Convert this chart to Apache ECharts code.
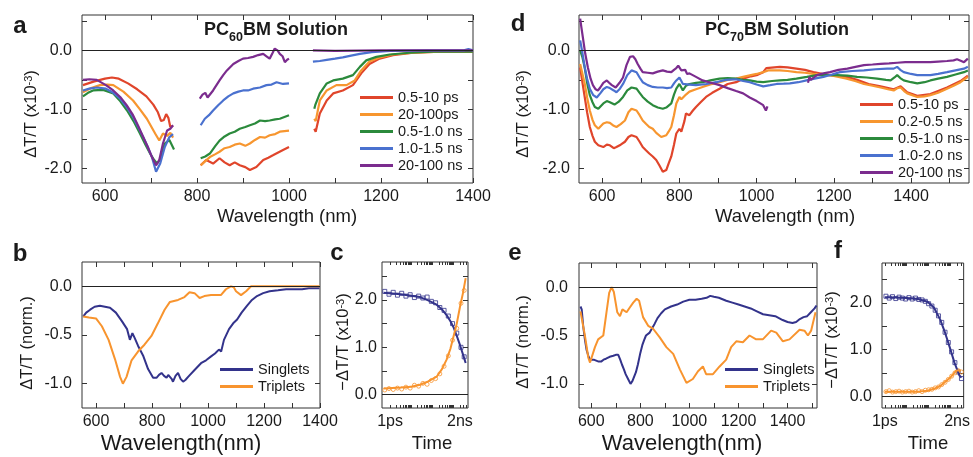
<!DOCTYPE html>
<html><head><meta charset="utf-8">
<script src="https://cdn.jsdelivr.net/npm/echarts@6/dist/echarts.min.js"></script>
<style>html,body{margin:0;padding:0;background:#fff}#c{width:973px;height:457px}</style>
</head><body><div id="c"></div>
<script>
// ---------- Panel a (PC60BM) : three spectral windows per series ----------
const a_red_1 = [[552,-0.59],[575,-0.53],[600,-0.48],[615,-0.46],[630,-0.48],[650,-0.56],[670,-0.66],[690,-0.78],[705,-0.92],[715,-1.05],[722,-1.2],[728,-1.18],[733,-1.08],[738,-1.15],[742,-1.3],[748,-1.28]];
const a_red_2 = [[808,-1.95],[820,-1.86],[835,-1.92],[849,-1.83],[860,-1.9],[871,-1.95],[882,-1.9],[893,-1.95],[905,-1.98],[915,-2.03],[929,-1.98],[944,-1.86],[955,-1.82],[965,-1.78],[987,-1.69],[1000,-1.64]];
const a_red_3 = [[1055,-1.33],[1058,-1.38],[1067,-1.07],[1082,-0.85],[1096,-0.73],[1117,-0.68],[1139,-0.59],[1157,-0.39],[1175,-0.23],[1197,-0.14],[1226,-0.08],[1270,-0.04],[1330,-0.02],[1400,-0.02]];
const a_orange_1 = [[552,-0.71],[570,-0.64],[589,-0.59],[605,-0.58],[618,-0.59],[640,-0.7],[661,-0.85],[676,-1.0],[691,-1.16],[709,-1.41],[718,-1.53],[726,-1.41],[735,-1.45],[742,-1.4],[748,-1.48]];
const a_orange_2 = [[808,-1.95],[818,-1.88],[828,-1.81],[840,-1.76],[849,-1.72],[860,-1.66],[871,-1.64],[882,-1.6],[893,-1.58],[905,-1.62],[915,-1.58],[926,-1.52],[937,-1.47],[948,-1.48],[958,-1.44],[970,-1.42],[980,-1.38],[1000,-1.36]];
const a_orange_3 = [[1055,-1.16],[1058,-1.2],[1067,-0.85],[1082,-0.68],[1103,-0.59],[1125,-0.59],[1143,-0.51],[1157,-0.34],[1175,-0.19],[1197,-0.12],[1226,-0.07],[1270,-0.04],[1330,-0.02],[1400,-0.02]];
const a_green_1 = [[552,-0.78],[563,-0.72],[574,-0.68],[596,-0.67],[618,-0.73],[633,-0.86],[648,-1.02],[662,-1.2],[676,-1.41],[688,-1.6],[698,-1.75],[706,-1.85],[713,-1.92],[720,-1.85],[730,-1.58],[740,-1.52],[745,-1.6],[750,-1.68]];
const a_green_2 = [[808,-1.83],[818,-1.8],[828,-1.75],[840,-1.62],[849,-1.53],[860,-1.46],[871,-1.41],[882,-1.38],[893,-1.33],[905,-1.3],[915,-1.27],[926,-1.24],[937,-1.19],[948,-1.2],[958,-1.19],[970,-1.17],[980,-1.16],[1000,-1.1]];
const a_green_3 = [[1055,-0.99],[1057,-0.93],[1067,-0.73],[1082,-0.56],[1096,-0.51],[1117,-0.48],[1139,-0.42],[1154,-0.28],[1168,-0.17],[1190,-0.11],[1219,-0.07],[1262,-0.04],[1313,-0.02],[1400,-0.02]];
const a_blue_1 = [[552,-0.68],[566,-0.65],[582,-0.63],[602,-0.65],[618,-0.72],[633,-0.82],[647,-0.96],[661,-1.13],[672,-1.3],[683,-1.47],[693,-1.64],[702,-1.81],[707,-1.95],[711,-2.06],[720,-1.92],[730,-1.64],[740,-1.47],[748,-1.42]];
const a_blue_2 = [[808,-1.27],[812,-1.3],[817,-1.16],[826,-1.1],[835,-1.02],[846,-0.93],[857,-0.85],[868,-0.78],[879,-0.73],[890,-0.7],[900,-0.68],[911,-0.68],[922,-0.65],[937,-0.63],[951,-0.59],[962,-0.58],[973,-0.54],[987,-0.57],[1000,-0.56]];
const a_blue_3 = [[1052,-0.19],[1067,-0.18],[1082,-0.16],[1100,-0.14],[1117,-0.12],[1135,-0.09],[1154,-0.06],[1180,-0.03],[1220,-0.01],[1300,0.0],[1380,0.0],[1390,0.02],[1400,0.0]];
const a_purple_1 = [[552,-0.5],[566,-0.49],[582,-0.5],[602,-0.59],[618,-0.68],[633,-0.79],[647,-0.93],[661,-1.1],[672,-1.28],[683,-1.47],[693,-1.64],[702,-1.81],[711,-1.95],[718,-1.86],[726,-1.58],[735,-1.36],[742,-1.33],[748,-1.27]];
const a_purple_2 = [[806,-0.82],[812,-0.75],[818,-0.72],[823,-0.8],[835,-0.68],[849,-0.51],[857,-0.42],[865,-0.34],[879,-0.23],[890,-0.18],[900,-0.14],[911,-0.13],[922,-0.11],[933,-0.08],[944,-0.06],[951,-0.1],[958,-0.14],[964,-0.05],[969,0.03],[975,0.0],[980,-0.06],[986,-0.1],[991,-0.2],[996,-0.16],[1000,-0.14]];
const a_purple_3 = [[1052,0.0],[1100,-0.01],[1200,0.0],[1300,0.0],[1400,0.0]];
const a_names = ['0.5-10 ps','20-100ps','0.5-1.0 ns','1.0-1.5 ns','20-100 ns'];

// ---------- Panel d (PC70BM) ----------
const d_red = [[543,-0.29],[549,-0.55],[555,-0.8],[561,-1.05],[568,-1.3],[575,-1.45],[581,-1.55],[590,-1.61],[603,-1.64],[612,-1.6],[620,-1.61],[630,-1.66],[637,-1.64],[648,-1.6],[659,-1.55],[668,-1.47],[676,-1.44],[689,-1.47],[697,-1.55],[705,-1.64],[714,-1.7],[722,-1.75],[731,-1.8],[740,-1.86],[748,-1.95],[757,-2.06],[766,-2.03],[772,-1.92],[779,-1.8],[786,-1.6],[792,-1.41],[800,-1.33],[805,-1.38],[809,-1.41],[813,-1.2],[817,-1.07],[826,-1.1],[835,-1.02],[843,-0.96],[855,-0.88],[869,-0.79],[885,-0.72],[904,-0.65],[925,-0.57],[947,-0.54],[965,-0.48],[985,-0.44],[1000,-0.42],[1017,-0.37],[1025,-0.3],[1030,-0.28],[1060,-0.28],[1080,-0.29],[1103,-0.31],[1125,-0.33],[1147,-0.37],[1170,-0.4],[1190,-0.42],[1212,-0.43],[1233,-0.45],[1260,-0.5],[1290,-0.57],[1321,-0.61],[1355,-0.66],[1373,-0.61],[1390,-0.71],[1416,-0.77],[1450,-0.74],[1493,-0.63],[1528,-0.52],[1547,-0.43]];
const d_orange = [[543,-0.23],[549,-0.4],[555,-0.57],[561,-0.8],[568,-1.02],[575,-1.18],[581,-1.27],[590,-1.33],[603,-1.24],[612,-1.22],[620,-1.23],[630,-1.28],[637,-1.3],[648,-1.25],[659,-1.19],[668,-1.05],[676,-0.99],[689,-1.02],[697,-1.1],[705,-1.19],[714,-1.25],[722,-1.3],[731,-1.33],[740,-1.4],[753,-1.47],[766,-1.44],[772,-1.38],[779,-1.3],[786,-1.1],[792,-0.9],[800,-0.79],[805,-0.83],[809,-0.85],[817,-0.75],[826,-0.7],[843,-0.66],[860,-0.62],[880,-0.58],[904,-0.54],[925,-0.5],[947,-0.48],[965,-0.45],[985,-0.42],[1000,-0.4],[1017,-0.37],[1030,-0.34],[1060,-0.34],[1080,-0.35],[1103,-0.37],[1125,-0.38],[1147,-0.4],[1170,-0.41],[1190,-0.42],[1212,-0.45],[1233,-0.48],[1255,-0.52],[1278,-0.57],[1300,-0.6],[1321,-0.63],[1340,-0.66],[1355,-0.68],[1365,-0.64],[1373,-0.63],[1382,-0.69],[1390,-0.73],[1416,-0.79],[1435,-0.78],[1450,-0.76],[1470,-0.72],[1493,-0.65],[1510,-0.6],[1528,-0.54],[1547,-0.45]];
const d_green = [[543,0.0],[549,-0.12],[555,-0.3],[561,-0.55],[568,-0.76],[575,-0.88],[581,-0.96],[590,-0.99],[603,-0.9],[612,-0.86],[620,-0.88],[632,-0.92],[643,-0.87],[654,-0.79],[665,-0.68],[676,-0.63],[689,-0.65],[697,-0.72],[705,-0.79],[718,-0.87],[731,-0.93],[744,-0.97],[757,-0.99],[766,-0.97],[779,-0.9],[786,-0.75],[792,-0.65],[800,-0.57],[805,-0.63],[809,-0.68],[817,-0.6],[826,-0.57],[843,-0.55],[860,-0.54],[880,-0.51],[904,-0.48],[925,-0.47],[947,-0.48],[965,-0.5],[982,-0.51],[1000,-0.53],[1017,-0.54],[1040,-0.52],[1060,-0.51],[1080,-0.5],[1103,-0.48],[1130,-0.45],[1156,-0.42],[1180,-0.42],[1207,-0.42],[1235,-0.43],[1260,-0.45],[1285,-0.46],[1312,-0.48],[1335,-0.5],[1347,-0.51],[1357,-0.46],[1364,-0.42],[1372,-0.47],[1381,-0.51],[1400,-0.54],[1416,-0.56],[1435,-0.54],[1450,-0.51],[1470,-0.48],[1493,-0.45],[1515,-0.41],[1537,-0.37],[1547,-0.34]];
const d_blue = [[543,0.17],[549,-0.05],[555,-0.29],[561,-0.48],[568,-0.65],[577,-0.76],[586,-0.8],[595,-0.73],[603,-0.66],[612,-0.62],[620,-0.64],[630,-0.68],[637,-0.71],[646,-0.65],[654,-0.57],[665,-0.42],[676,-0.34],[689,-0.37],[697,-0.46],[705,-0.54],[718,-0.59],[731,-0.62],[744,-0.63],[757,-0.63],[768,-0.64],[779,-0.63],[786,-0.56],[792,-0.51],[800,-0.46],[805,-0.52],[809,-0.57],[826,-0.58],[843,-0.59],[870,-0.57],[895,-0.54],[920,-0.5],[947,-0.49],[965,-0.52],[982,-0.54],[1000,-0.58],[1017,-0.61],[1035,-0.59],[1052,-0.57],[1070,-0.565],[1086,-0.56],[1108,-0.54],[1129,-0.51],[1150,-0.48],[1173,-0.45],[1195,-0.41],[1216,-0.37],[1248,-0.35],[1278,-0.34],[1308,-0.32],[1338,-0.31],[1355,-0.31],[1364,-0.28],[1372,-0.33],[1381,-0.37],[1400,-0.4],[1416,-0.42],[1450,-0.42],[1470,-0.4],[1493,-0.37],[1515,-0.34],[1537,-0.31],[1547,-0.28]];
const d_purple_1 = [[543,0.54],[546,0.4],[550,0.22],[556,-0.05],[563,-0.29],[570,-0.48],[576,-0.59],[583,-0.66],[589,-0.68],[595,-0.63],[603,-0.55],[612,-0.51],[618,-0.55],[625,-0.59],[635,-0.63],[645,-0.55],[654,-0.46],[663,-0.25],[672,-0.11],[680,-0.1],[686,-0.15],[692,-0.23],[699,-0.31],[705,-0.37],[718,-0.38],[731,-0.39],[744,-0.36],[757,-0.34],[768,-0.36],[779,-0.37],[786,-0.33],[792,-0.3],[797,-0.26],[800,-0.28],[805,-0.34],[809,-0.37],[815,-0.33],[820,-0.4],[826,-0.39],[843,-0.45],[860,-0.51],[882,-0.55],[904,-0.59],[925,-0.64],[947,-0.69],[965,-0.73],[982,-0.8],[1000,-0.86],[1017,-0.93],[1024,-1.02],[1028,-0.95]];
const d_purple_2 = [[1133,-0.55],[1137,-0.45],[1140,-0.5],[1156,-0.42],[1173,-0.39],[1190,-0.37],[1212,-0.33],[1235,-0.31],[1256,-0.28],[1278,-0.25],[1300,-0.24],[1321,-0.23],[1343,-0.22],[1364,-0.21],[1385,-0.2],[1407,-0.2],[1430,-0.2],[1450,-0.2],[1470,-0.19],[1493,-0.18],[1510,-0.17],[1519,-0.15],[1530,-0.18],[1537,-0.2],[1547,-0.14]];
const d_names = ['0.5-10 ps','0.2-0.5 ns','0.5-1.0 ns','1.0-2.0 ns','20-100 ns'];

// ---------- Panel b (PC60BM normalised) ----------
const b_singlets = [[554,-0.31],[565,-0.27],[579,-0.24],[595,-0.21],[614,-0.2],[632,-0.21],[650,-0.22],[671,-0.27],[693,-0.36],[711,-0.44],[721,-0.55],[730,-0.48],[738,-0.53],[750,-0.61],[768,-0.71],[786,-0.85],[804,-0.94],[816,-0.94],[825,-0.91],[834,-0.89],[843,-0.92],[852,-0.94],[858,-0.91],[864,-0.89],[870,-0.95],[875,-0.98],[884,-0.92],[893,-0.89],[902,-0.95],[911,-0.98],[920,-0.96],[929,-0.93],[952,-0.86],[975,-0.79],[993,-0.76],[1011,-0.72],[1025,-0.69],[1039,-0.65],[1047,-0.67],[1057,-0.55],[1075,-0.44],[1090,-0.38],[1104,-0.34],[1120,-0.27],[1139,-0.2],[1157,-0.14],[1175,-0.1],[1197,-0.07],[1220,-0.05],[1250,-0.04],[1279,-0.03],[1310,-0.03],[1336,-0.03],[1360,-0.02],[1380,-0.02],[1398,-0.02]];
const b_triplets = [[554,-0.31],[575,-0.32],[600,-0.33],[621,-0.41],[645,-0.55],[668,-0.75],[686,-0.93],[696,-1.0],[709,-0.93],[727,-0.76],[750,-0.67],[773,-0.6],[798,-0.51],[821,-0.38],[845,-0.24],[864,-0.16],[893,-0.14],[916,-0.11],[934,-0.06],[952,-0.07],[970,-0.12],[987,-0.1],[1011,-0.09],[1046,-0.09],[1064,-0.03],[1082,0.0],[1092,-0.01],[1100,-0.05],[1118,-0.09],[1136,-0.05],[1154,0.0],[1200,0.0],[1300,0.0],[1398,0.0]];

// ---------- Panel e (PC70BM normalised) ----------
const e_singlets = [[556,-0.2],[561,-0.23],[567,-0.4],[574,-0.54],[581,-0.65],[588,-0.71],[595,-0.75],[601,-0.76],[610,-0.75],[620,-0.76],[630,-0.77],[640,-0.77],[650,-0.75],[660,-0.74],[675,-0.72],[690,-0.71],[700,-0.7],[710,-0.7],[718,-0.75],[725,-0.8],[733,-0.85],[740,-0.9],[750,-0.95],[760,-1.0],[768,-0.97],[775,-0.95],[782,-0.88],[790,-0.8],[800,-0.68],[808,-0.6],[815,-0.55],[823,-0.5],[830,-0.48],[838,-0.47],[845,-0.45],[858,-0.38],[870,-0.32],[885,-0.27],[900,-0.23],[925,-0.2],[950,-0.18],[975,-0.15],[1000,-0.13],[1025,-0.13],[1050,-0.12],[1070,-0.11],[1085,-0.09],[1100,-0.1],[1120,-0.11],[1150,-0.14],[1175,-0.16],[1200,-0.18],[1225,-0.2],[1250,-0.22],[1275,-0.25],[1300,-0.28],[1325,-0.29],[1350,-0.3],[1365,-0.32],[1380,-0.34],[1400,-0.36],[1420,-0.37],[1435,-0.36],[1450,-0.33],[1465,-0.31],[1480,-0.3],[1495,-0.26],[1510,-0.22],[1518,-0.19]];
const e_triplets = [[556,-0.25],[561,-0.25],[574,-0.5],[588,-0.73],[595,-0.78],[601,-0.76],[615,-0.62],[628,-0.54],[649,-0.5],[662,-0.26],[673,-0.06],[683,0.0],[692,-0.05],[706,-0.26],[717,-0.3],[727,-0.23],[744,-0.26],[757,-0.21],[771,-0.16],[785,-0.12],[795,-0.14],[811,-0.31],[832,-0.4],[852,-0.43],[879,-0.52],[906,-0.62],[934,-0.69],[961,-0.85],[988,-0.99],[996,-1.0],[1014,-0.95],[1035,-0.87],[1055,-0.82],[1068,-0.9],[1096,-0.9],[1123,-0.82],[1150,-0.75],[1170,-0.62],[1191,-0.56],[1218,-0.57],[1245,-0.5],[1272,-0.54],[1299,-0.54],[1333,-0.45],[1354,-0.47],[1381,-0.56],[1408,-0.54],[1449,-0.44],[1469,-0.45],[1483,-0.5],[1496,-0.45],[1514,-0.26]];

// ---------- Panels c and f : kinetics, x = log10(t / 1 ps) ----------
const c_s_pts = [[-0.25,2.18],[-0.05,2.12],[0.15,2.16],[0.35,2.1],[0.55,2.14],[0.75,2.08],[0.95,2.11],[1.15,2.05],[1.35,2.08],[1.55,2.04],[1.75,2.06],[1.95,1.97],[2.15,1.94],[2.35,1.84],[2.55,1.78],[2.75,1.66],[2.95,1.5],[3.15,1.3],[3.35,1.0],[3.5,0.8]];
const c_t_pts = [[-0.25,0.1],[-0.05,0.13],[0.15,0.11],[0.35,0.14],[0.55,0.12],[0.75,0.16],[0.95,0.14],[1.15,0.2],[1.35,0.18],[1.55,0.24],[1.75,0.22],[1.95,0.3],[2.15,0.34],[2.35,0.44],[2.55,0.6],[2.75,0.82],[2.95,1.15],[3.15,1.4],[3.35,1.93],[3.5,2.2]];
const c_s_fit = [[-0.3,2.15],[0.5,2.12],[1.0,2.09],[1.41,2.06],[1.8,1.99],[2.2,1.9],[2.45,1.8],[2.67,1.68],[2.85,1.55],[2.99,1.43],[3.15,1.24],[3.3,1.05],[3.45,0.84],[3.57,0.67]];
const c_t_fit = [[-0.3,0.13],[0.5,0.15],[1.0,0.17],[1.41,0.21],[1.8,0.28],[2.2,0.38],[2.45,0.54],[2.67,0.74],[2.85,0.97],[2.99,1.22],[3.15,1.5],[3.3,1.85],[3.45,2.16],[3.57,2.46]];
const f_s_pts = [[0.05,2.14],[0.2,2.1],[0.35,2.13],[0.5,2.09],[0.65,2.12],[0.8,2.1],[0.95,2.08],[1.1,2.11],[1.25,2.08],[1.4,2.1],[1.55,2.07],[1.7,2.06],[1.85,2.03],[2.0,1.98],[2.15,1.93],[2.3,1.84],[2.45,1.72],[2.6,1.58],[2.75,1.37],[2.9,1.15],[3.05,0.95],[3.2,0.72],[3.35,0.52],[3.5,0.38]];
const f_t_pts = [[0.05,0.1],[0.2,0.12],[0.35,0.09],[0.5,0.1],[0.65,0.11],[0.8,0.09],[0.95,0.1],[1.1,0.11],[1.25,0.09],[1.4,0.1],[1.55,0.12],[1.7,0.1],[1.85,0.13],[2.0,0.14],[2.15,0.15],[2.3,0.18],[2.45,0.2],[2.6,0.25],[2.75,0.3],[2.9,0.36],[3.05,0.43],[3.2,0.5],[3.35,0.55],[3.5,0.52]];
const f_s_fit = [[0,2.12],[0.5,2.11],[1.0,2.1],[1.52,2.08],[1.95,2.02],[2.24,1.9],[2.53,1.64],[2.75,1.36],[2.97,1.04],[3.18,0.72],[3.4,0.45],[3.5,0.4]];
const f_t_fit = [[0,0.1],[0.5,0.1],[1.0,0.1],[1.52,0.1],[1.95,0.12],[2.24,0.16],[2.53,0.22],[2.68,0.28],[2.97,0.39],[3.26,0.55],[3.47,0.55]];
const bt_names = ['Singlets','Triplets'];

// ---------- Tick values ----------
const wlTicksA = [600,700,800,900,1000,1100,1200,1300,1400];
const wlTicksD = [600,700,800,900,1000,1100,1200,1300,1400,1500];
const wlLabels = [600,800,1000,1200,1400];
const yTicksAD = [-2,-1.5,-1,-0.5,0,0.5];
const yLabelsAD = [-2,-1,0];
const yTicksBE = [-1,-0.5,0];
const yTicksCF = [0,0.5,1,1.5,2,2.5];
const yLabelsCF = [0,1,2];
const timeLabelPos = [0, 3.301];
const timeLabelText = ['1ps','2ns'];

// ---------- Build ----------
const FONT = '"Liberation Sans", Arial, Helvetica, sans-serif';
const TXT = '#1a1a1a';
const C = {red:'#e0452b', orange:'#f7962f', green:'#2b8a3c', blue:'#4a71cf', purple:'#7b2c8e', navy:'#33338b', torange:'#f8942e'};

function logTicks(max){ const t=[]; for(let d=0; d<4; d++){ for(let m=1;m<10;m++){ const v=d+Math.log10(m); if(v<=max) t.push(v);} } return t; }

function join(...segs){ const out=[]; segs.forEach((s,i)=>{ if(i>0){ out.push([(segs[i-1][segs[i-1].length-1][0]+s[0][0])/2,'-']); } s.forEach(p=>out.push(p)); }); return out; }

const grids = [
  {left:82, top:15, width:391, height:168},
  {left:579, top:15, width:390, height:168},
  {left:82, top:262, width:238, height:146},
  {left:382, top:262, width:86, height:146},
  {left:579, top:263, width:238, height:145},
  {left:882, top:263, width:86, height:145}
].map(g=>Object.assign(g,{show:true, borderColor:'#333', borderWidth:1, backgroundColor:'rgba(0,0,0,0)'}));

const xAxes=[], yAxes=[];
const noLine = {show:false, onZero:false};
function addX(g,min,max,ticks,labels,fmt,tl){
  const tick = {show:true, inside:true, length:tl||5, customValues:ticks, lineStyle:{color:'#333', width:1}};
  xAxes.push({type:'value', gridIndex:g, position:'bottom', min, max, axisLine:noLine, splitLine:{show:false}, axisTick:tick,
    axisLabel:{show:true, customValues:labels, formatter:fmt, margin:6, fontSize:16, color:TXT, fontFamily:FONT}});
  xAxes.push({type:'value', gridIndex:g, position:'top', min, max, axisLine:noLine, splitLine:{show:false}, axisTick:tick, axisLabel:{show:false}});
}
function addY(g,min,max,ticks,labels,margin){
  const tick = {show:true, inside:true, length:5, customValues:ticks, lineStyle:{color:'#333', width:1}};
  yAxes.push({type:'value', gridIndex:g, position:'left', min, max, axisLine:noLine, splitLine:{show:false}, axisTick:tick,
    axisLabel:{show:true, customValues:labels, formatter:v=>v.toFixed(1), margin:margin, fontSize:16, color:TXT, fontFamily:FONT}});
  yAxes.push({type:'value', gridIndex:g, position:'right', min, max, axisLine:noLine, splitLine:{show:false}, axisTick:tick, axisLabel:{show:false}});
}
const wlFmt = v=>String(v);
const tFmt = v=>timeLabelText[timeLabelPos.indexOf(v)] || '';
addX(0,550,1400,wlTicksA,wlLabels,wlFmt); addY(0,-2.25,0.6,yTicksAD,yLabelsAD,10);
addX(1,540,1550,wlTicksD,wlLabels,wlFmt); addY(1,-2.25,0.6,yTicksAD,yLabelsAD,9);
addX(2,550,1400,wlTicksA,wlLabels,wlFmt); addY(2,-1.25,0.25,yTicksBE,yTicksBE,10);
addX(3,-0.38,3.68,logTicks(3.68),timeLabelPos,tFmt,3); addY(3,-0.28,2.8,yTicksCF,yLabelsCF,5);
addX(4,550,1520,wlTicksD,wlLabels,wlFmt); addY(4,-1.25,0.25,yTicksBE,yTicksBE,11);
addX(5,-0.13,3.6,logTicks(3.6),timeLabelPos,tFmt,3); addY(5,-0.25,2.85,yTicksCF,yLabelsCF,10);

const zeroLine = {silent:true, symbol:['none','none'], label:{show:false}, lineStyle:{color:'#222', width:1, type:'solid'}, data:[{yAxis:0}], animation:false};
function line(name,data,g,color,w,zero){
  const s={type:'line', name, data, xAxisIndex:2*g, yAxisIndex:2*g, showSymbol:false, symbol:'none', connectNulls:false,
    lineStyle:{color, width:w}, itemStyle:{color}, animation:false, z:3};
  if(zero) s.markLine = zeroLine;
  return s;
}
function pts(name,data,g,color,sym){
  return {type:'scatter', name, data, xAxisIndex:2*g, yAxisIndex:2*g, symbol:sym, symbolSize:4,
    itemStyle:{color:'rgba(255,255,255,0)', borderColor:color, borderWidth:1}, animation:false, z:2};
}

const series = [
  line(a_names[0], join(a_red_1,a_red_2,a_red_3), 0, C.red, 2.2, true),
  line(a_names[1], join(a_orange_1,a_orange_2,a_orange_3), 0, C.orange, 2.2),
  line(a_names[2], join(a_green_1,a_green_2,a_green_3), 0, C.green, 2.2),
  line(a_names[3], join(a_blue_1,a_blue_2,a_blue_3), 0, C.blue, 2.2),
  line(a_names[4], join(a_purple_1,a_purple_2,a_purple_3), 0, C.purple, 2.2),
  line(d_names[0], d_red, 1, C.red, 2.2, true),
  line(d_names[1], d_orange, 1, C.orange, 2.2),
  line(d_names[2], d_green, 1, C.green, 2.2),
  line(d_names[3], d_blue, 1, C.blue, 2.2),
  line(d_names[4], join(d_purple_1,d_purple_2), 1, C.purple, 2.2),
  line(bt_names[0], b_singlets, 2, C.navy, 2, true),
  line(bt_names[1], b_triplets, 2, C.torange, 2),
  line(bt_names[0], e_singlets, 4, C.navy, 2, true),
  line(bt_names[1], e_triplets, 4, C.torange, 2),
  pts('c singlets data', c_s_pts, 3, C.navy, 'rect'),
  pts('c triplets data', c_t_pts, 3, C.torange, 'circle'),
  line('c singlets fit', c_s_fit, 3, C.navy, 2, true),
  line('c triplets fit', c_t_fit, 3, C.torange, 2),
  pts('f singlets data', f_s_pts, 5, C.navy, 'rect'),
  pts('f triplets data', f_t_pts, 5, C.torange, 'circle'),
  line('f singlets fit', f_s_fit, 5, C.navy, 2, true),
  line('f triplets fit', f_t_fit, 5, C.torange, 2)
];

function legend(names,left,top){
  return {data:names, left, top, orient:'vertical', icon:'rect', itemWidth:33, itemHeight:3, itemGap:0, selectedMode:false,
    textStyle:{fontSize:14.5, lineHeight:17, color:TXT, fontFamily:FONT}, padding:0};
}

function txt(text,x,y,size,bold,rot,rich){
  const o={type:'text', x, y, rotation:rot||0, silent:true,
    style:{text, fill:TXT, fontSize:size, fontWeight:bold?'bold':'normal', fontFamily:FONT, align:'center', verticalAlign:'middle'}};
  if(rich) o.style.rich=rich;
  return o;
}
const supRich = {n:{fontSize:16.5, lineHeight:20, verticalAlign:'top', fontFamily:FONT, fill:TXT},
                 s:{fontSize:11, lineHeight:11, verticalAlign:'top', fontFamily:FONT, fill:TXT}};
const subRich = {b:{fontSize:18, lineHeight:22, verticalAlign:'top', fontWeight:'bold', fontFamily:FONT, fill:TXT},
                 s:{fontSize:12.5, lineHeight:12, verticalAlign:'top', fontWeight:'bold', fontFamily:FONT, fill:TXT, padding:[10,0,0,0]}};
const R = Math.PI/2;
const graphic = [
  txt('a',20,26,24,true), txt('d',518,24,24,true), txt('b',20,254,24,true),
  txt('c',337,253,24,true), txt('e',515,253,24,true), txt('f',838,251,24,true),
  txt('{b|PC}{s|60}{b|BM Solution}',276,32,18,true,0,subRich),
  txt('{b|PC}{s|70}{b|BM Solution}',777,32,18,true,0,subRich),
  txt('{n|ΔT/T (x10}{s|-3}{n|)}',33,114,16.5,false,R,supRich),
  txt('{n|ΔT/T (x10}{s|-3}{n|)}',525,114,16.5,false,R,supRich),
  txt('{n|ΔT/T (norm.)}',29,343,16.5,false,R,supRich),
  txt('{n|ΔT/T (norm.)}',525,342,16.5,false,R,supRich),
  txt('{n|\u2212ΔT/T (x10}{s|-3}{n|)}',345,342,16.5,false,R,supRich),
  txt('{n|\u2212ΔT/T (x10}{s|-3}{n|)}',834,340,16.5,false,R,supRich),
  txt('Wavelength (nm)',287,217,18.5,false),
  txt('Wavelength (nm)',785,217,18.5,false),
  txt('Wavelength(nm)',181,444,22,false),
  txt('Wavelength(nm)',682,444,22,false),
  txt('Time',432,444,18.5,false),
  txt('Time',928,444,18.5,false)
];

const chart = echarts.init(document.getElementById('c'), null, {renderer:'canvas'});
chart.setOption({
  animation:false,
  backgroundColor:'#fff',
  textStyle:{fontFamily:FONT},
  grid:grids, xAxis:xAxes, yAxis:yAxes, series,
  legend:[legend(a_names,360,89), legend(d_names,860,96), legend(bt_names,220,361), legend(bt_names,725,361)],
  graphic
});
</script></body></html>
